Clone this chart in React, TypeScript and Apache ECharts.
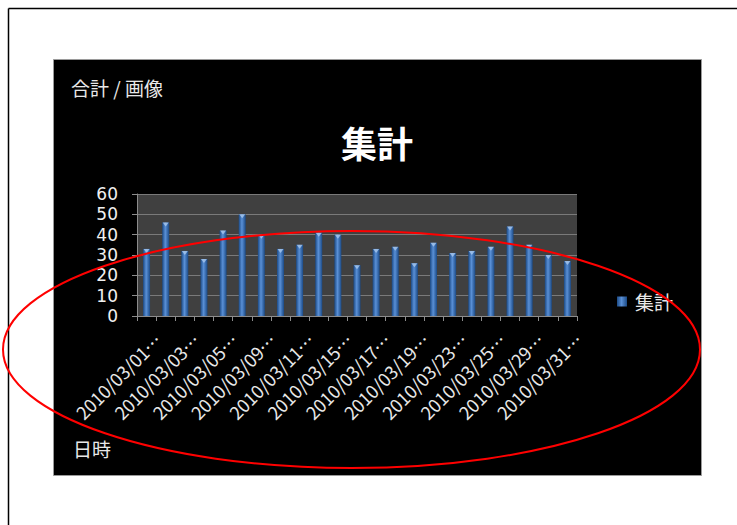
import React, { useEffect, useRef } from "react";
import * as echarts from "echarts";

const categories = [
  "2010/03/01", "2010/03/02", "2010/03/03", "2010/03/04", "2010/03/05",
  "2010/03/08", "2010/03/09", "2010/03/10", "2010/03/11", "2010/03/12",
  "2010/03/15", "2010/03/16", "2010/03/17", "2010/03/18", "2010/03/19",
  "2010/03/22", "2010/03/23", "2010/03/24", "2010/03/25", "2010/03/26",
  "2010/03/29", "2010/03/30", "2010/03/31",
];
const values = [33, 46, 32, 28, 42, 50, 40, 33, 35, 41, 40, 25, 33, 34, 26, 36, 31, 32, 34, 44, 35, 30, 27];
const seriesName = "集計";
const titleText = "集計";
const fieldLabel = "合計 / 画像";
const axisFieldLabel = "日時";
const yTicks = { min: 0, max: 60, interval: 10 };

const FONT = "'Noto Sans CJK JP', 'Noto Sans', sans-serif";

export default function App() {
  const ref = useRef<HTMLDivElement>(null);
  useEffect(() => {
    if (!ref.current) return;
    const chart = echarts.init(ref.current, null, { renderer: "svg" });
    const barGrad = new echarts.graphic.LinearGradient(0, 0, 1, 0, [
      { offset: 0, color: "#1b4a86" },
      { offset: 0.45, color: "#5a90d6" },
      { offset: 1, color: "#1b4a86" },
    ]);
    chart.setOption({
      animation: false,
      backgroundColor: "transparent",
      textStyle: { fontFamily: FONT },
      graphic: [
        { type: "line", shape: { x1: 8.5, y1: 8.5, x2: 737, y2: 8.5 }, style: { stroke: "#000", lineWidth: 1.5 }, z: -10 },
        { type: "line", shape: { x1: 8.5, y1: 8.5, x2: 8.5, y2: 525 }, style: { stroke: "#000", lineWidth: 1.5 }, z: -10 },
        {
          type: "rect",
          shape: { x: 53.5, y: 59.5, width: 648, height: 416 },
          style: { fill: "#000", stroke: "#9a9a9a", lineWidth: 1 },
          z: -10,
        },
        {
          type: "rect",
          shape: { x: 137, y: 194, width: 440, height: 122 },
          style: { fill: "#404040" },
          z: -5,
        },
        {
          type: "text", x: 71, y: 87,
          style: { text: fieldLabel, fill: "#e8e8e8", font: `19px ${FONT}`, verticalAlign: "middle", textVerticalAlign: "middle" },
          z: 10,
        },
        {
          type: "text", x: 377, y: 142,
          style: { text: titleText, fill: "#ffffff", font: `bold 36px ${FONT}`, align: "center", textAlign: "center", verticalAlign: "middle", textVerticalAlign: "middle" },
          z: 10,
        },
        {
          type: "text", x: 73, y: 448,
          style: { text: axisFieldLabel, fill: "#e8e8e8", font: `19px ${FONT}`, verticalAlign: "middle", textVerticalAlign: "middle" },
          z: 10,
        },
        {
          type: "ellipse",
          shape: { cx: 351.5, cy: 349.5, rx: 348.5, ry: 118.5 },
          style: { fill: "none", stroke: "#ff0000", lineWidth: 2 },
          z: 100,
        },
      ],
      grid: { left: 137, top: 194, width: 440, height: 122, containLabel: false },
      legend: {
        data: [seriesName],
        left: 617,
        top: 292,
        padding: 0,
        icon: "rect",
        itemWidth: 10,
        itemHeight: 10,
        itemGap: 8,
        textStyle: { color: "#e8e8e8", fontSize: 19, fontFamily: FONT, padding: [0, 0, 0, 3] },
      },
      xAxis: {
        type: "category",
        data: categories,
        axisLine: { lineStyle: { color: "#8c8c8c", width: 1 } },
        axisTick: { show: true, interval: 0, length: 5, lineStyle: { color: "#8c8c8c" } },
        axisLabel: {
          interval: 1,
          rotate: 45,
          margin: 9,
          align: "right",
          verticalAlign: "top",
          padding: [7, 0, 0, 0],
          color: "#e8e8e8",
          fontSize: 18,
          fontFamily: FONT,
          formatter: (v: string) => v + "…",
        },
        splitLine: { show: false },
      },
      yAxis: {
        type: "value",
        min: yTicks.min,
        max: yTicks.max,
        interval: yTicks.interval,
        axisLine: { show: true, lineStyle: { color: "#8c8c8c" } },
        axisTick: { show: true, length: 5, lineStyle: { color: "#8c8c8c" } },
        axisLabel: { margin: 19, color: "#f0f0f0", fontSize: 17, lineHeight: 17, fontFamily: "'DejaVu Sans', sans-serif" },
        splitLine: { show: true, lineStyle: { color: "#7a7a7a", width: 1 } },
      },
      series: [
        {
          name: seriesName,
          type: "bar",
          data: values,
          barWidth: 7,
          itemStyle: { color: barGrad },
          z: 2,
        },
        {
          name: "cap",
          type: "scatter",
          data: values,
          symbol: "triangle",
          symbolRotate: 180,
          symbolSize: [6, 4],
          symbolOffset: [0, 2],
          itemStyle: { color: "#a9c8ee" },
          silent: true,
          z: 3,
        },
      ],
    });
    return () => chart.dispose();
  }, []);
  return (
    <div
      ref={ref}
      style={{ position: "absolute", left: 0, top: 0, width: 737, height: 525 }}
    />
  );
}
